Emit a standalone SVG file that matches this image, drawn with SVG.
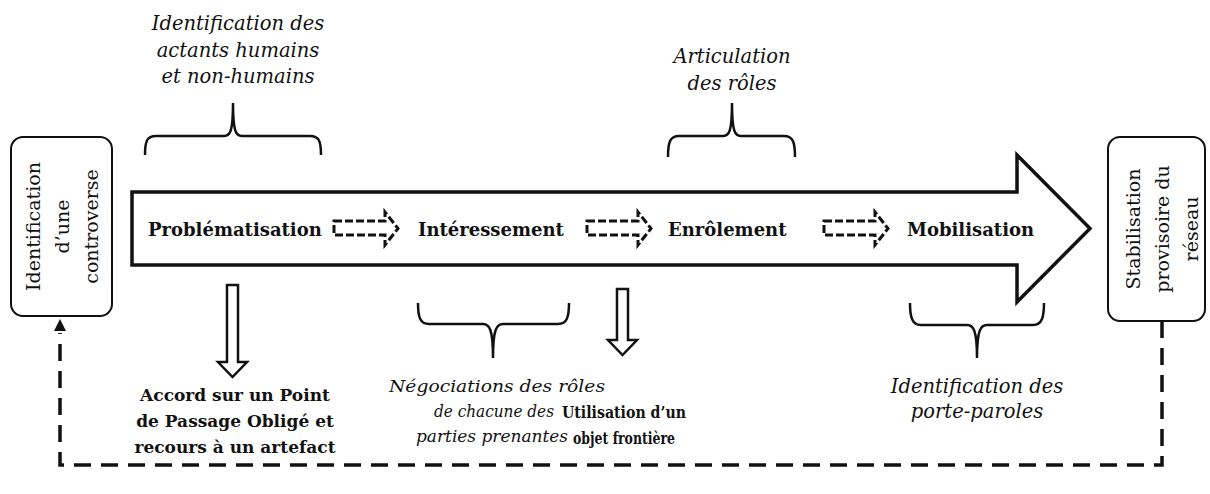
<svg xmlns="http://www.w3.org/2000/svg" width="1210" height="494" viewBox="0 0 1210 494">
<defs>
<style>
.lbl{font-family:"DejaVu Serif","Liberation Serif",serif;fill:#111}
.stage{font-size:18px;font-weight:bold}
.it{font-size:19.5px;font-style:italic;text-anchor:middle}
.it2{font-size:17.5px;font-style:italic;text-anchor:middle}
.bold{font-size:17px;font-weight:bold;text-anchor:middle}
.bold2{font-size:16.5px;font-weight:bold;text-anchor:middle}
.side{font-size:19px;text-anchor:middle}
.brace{fill:none;stroke:#111;stroke-width:2.5}
.box{fill:#fff;stroke:#111;stroke-width:2}
.small{fill:#fff;stroke:#111;stroke-width:3;stroke-dasharray:8 3}
.hollow{fill:#fff;stroke:#111;stroke-width:2.5}
.conn{fill:none;stroke:#111;stroke-width:3.5;stroke-dasharray:17 10}
</style>
</defs>
<rect width="1210" height="494" fill="#fff"/>

<g id="connectors">
<path class="conn" d="M1162,321 V465 H60 V333"/>
<path d="M54,331 L60,319 L66,331 Z" fill="#111"/>
</g>

<g id="main-arrow">
<path d="M132,192 H1017 V155 L1090,228.5 L1017,302 V265 H132 Z" fill="#fff" stroke="#111" stroke-width="3.5" stroke-linejoin="miter"/>
</g>

<g id="box-controverse">
<rect class="box" x="11" y="137" width="101" height="179" rx="12"/>
<g class="lbl side" transform="translate(0,226.5) rotate(-90)">
<text x="0" y="40">Identification</text>
<text x="0" y="69">d’une</text>
<text x="0" y="98">controverse</text>
</g>
</g>

<g id="box-stabilisation">
<rect class="box" x="1108" y="137" width="97" height="184" rx="12"/>
<g class="lbl side" transform="translate(0,229) rotate(-90)">
<text x="0" y="1140">Stabilisation</text>
<text x="0" y="1169">provisoire du</text>
<text x="0" y="1198">réseau</text>
</g>
</g>

<g id="stage-problematisation">
<text class="lbl stage" x="148" y="236">Problématisation</text>
</g>
<g id="stage-interessement">
<text class="lbl stage" x="418" y="236">Intéressement</text>
</g>
<g id="stage-enrolement">
<text class="lbl stage" x="668" y="236">Enrôlement</text>
</g>
<g id="stage-mobilisation">
<text class="lbl stage" x="907" y="236">Mobilisation</text>
</g>

<g id="small-arrows">
<path class="small" d="M334,221 H385 V212 L398,228.5 L385,245 V235 H334 Z"/>
<path class="small" d="M587,221 H638 V212 L651,228.5 L638,245 V235 H587 Z"/>
<path class="small" d="M824,221 H875 V212 L888,228.5 L875,245 V235 H824 Z"/>
</g>

<g id="note-actants">
<path class="brace" d="M145,155 C145,141 147,136 156,136 H224 C230,136 233,132 233,103 C233,132 236,136 242,136 H310 C319,136 321,141 321,155"/>
<text class="lbl it" x="238" y="30">Identification des</text>
<text class="lbl it" x="238" y="57">actants humains</text>
<text class="lbl it" x="238" y="83">et non-humains</text>
</g>

<g id="note-articulation">
<path class="brace" d="M668,157 C668,142 670,136 679,136 H723 C729,136 732,132 732,103 C732,132 735,136 741,136 H784 C793,136 795,142 795,157"/>
<text class="lbl it" x="732" y="63">Articulation</text>
<text class="lbl it" x="732" y="90">des rôles</text>
</g>

<g id="note-ppo">
<path class="hollow" d="M227,285 H238 V362 H247 L232.5,377 L218,362 H227 Z"/>
<text class="lbl bold" x="235" y="401">Accord sur un Point</text>
<text class="lbl bold" x="235" y="427">de Passage Obligé et</text>
<text class="lbl bold" x="235" y="453">recours à un artefact</text>
</g>

<g id="note-negociations">
<path class="brace" d="M418,303 C418,317 420,324 429,324 H483 C489,324 493,328 493,358 C493,328 497,324 503,324 H558 C567,324 569,317 569,303"/>
<text class="lbl it2" x="497" y="392" textLength="216" lengthAdjust="spacingAndGlyphs">Négociations des rôles</text>
<text class="lbl it2" x="494" y="417" textLength="120" lengthAdjust="spacingAndGlyphs">de chacune des</text>
<text class="lbl it2" x="492" y="442" textLength="152" lengthAdjust="spacingAndGlyphs">parties prenantes</text>
</g>

<g id="note-objet">
<path class="hollow" d="M617,289 H628 V340 H637 L622.5,355 L608,340 H617 Z"/>
<text class="lbl bold2" x="624" y="418" textLength="124" lengthAdjust="spacingAndGlyphs">Utilisation d’un</text>
<text class="lbl bold2" x="624" y="444" textLength="102" lengthAdjust="spacingAndGlyphs">objet frontière</text>
</g>

<g id="note-porte-paroles">
<path class="brace" d="M910,303 C910,317 912,325 921,325 H967 C973,325 977,329 977,358 C977,329 981,325 987,325 H1033 C1042,325 1044,317 1044,303"/>
<text class="lbl it" x="977" y="393">Identification des</text>
<text class="lbl it" x="977" y="418">porte-paroles</text>
</g>
</svg>
